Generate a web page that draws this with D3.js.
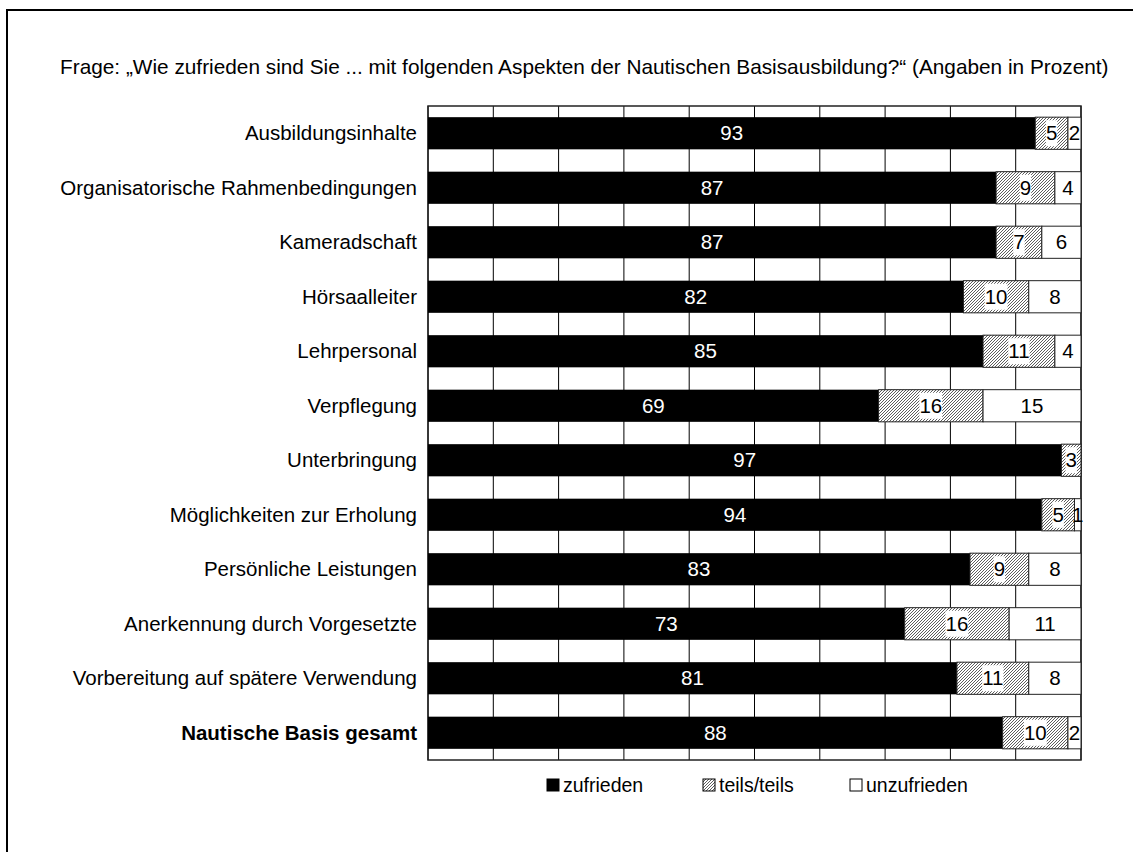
<!DOCTYPE html>
<html>
<head>
<meta charset="utf-8">
<script src="https://cdn.jsdelivr.net/npm/d3@7"></script>
<style>
  body { margin: 0; background: #fff; }
  text { font-family: "Liberation Sans", Arial, sans-serif; }
</style>
</head>
<body>
<script>
// categories, top to bottom
const categories = [
    "Ausbildungsinhalte",
    "Organisatorische Rahmenbedingungen",
    "Kameradschaft",
    "Hörsaalleiter",
    "Lehrpersonal",
    "Verpflegung",
    "Unterbringung",
    "Möglichkeiten zur Erholung",
    "Persönliche Leistungen",
    "Anerkennung durch Vorgesetzte",
    "Vorbereitung auf spätere Verwendung",
    "Nautische Basis gesamt"
];
const zufrieden   = [93, 87, 87, 82, 85, 69, 97, 94, 83, 73, 81, 88];
const teilsTeils  = [5, 9, 7, 10, 11, 16, 3, 5, 9, 16, 11, 10];
const unzufrieden = [2, 4, 6, 8, 4, 15, 0, 1, 8, 11, 8, 2];
const seriesNames = ["zufrieden", "teils/teils", "unzufrieden"];
const xTicks = [0, 10, 20, 30, 40, 50, 60, 70, 80, 90, 100];
const title = "Frage: \u201EWie zufrieden sind Sie ... mit folgenden Aspekten der Nautischen Basisausbildung?\u201C (Angaben in Prozent)";

const width = 1133;
const height = 852;
const plotLeft = 428, plotRight = 1081, plotTop = 106, plotBottom = 760;
const labelSize = 20.5;
const titleSize = 20.8;
const legendSize = 19.5;

const svg = d3.select("body")
    .append("svg")
    .attr("width", width)
    .attr("height", height);

// hatch pattern for teils/teils
svg.append("defs")
    .append("pattern")
    .attr("id", "hatch")
    .attr("patternUnits", "userSpaceOnUse")
    .attr("width", 3)
    .attr("height", 3)
    .call(p => {
        p.append("rect").attr("width", 3).attr("height", 3).attr("fill", "#fff");
        p.append("path")
            .attr("d", "M-1,1 L1,-1 M0,3 L3,0 M2,4 L4,2")
            .attr("stroke", "#333")
            .attr("stroke-width", 0.8);
    });

// outer frame (cut off at right and bottom)
svg.append("rect")
    .attr("x", 7)
    .attr("y", 10)
    .attr("width", 1200)
    .attr("height", 900)
    .attr("fill", "none")
    .attr("stroke", "#000")
    .attr("stroke-width", 2);

const xScale = d3.scaleLinear()
    .domain([0, 100])
    .range([plotLeft, plotRight]);

const yScale = d3.scaleBand()
    .domain(categories)
    .range([plotTop, plotBottom])
    .paddingInner(0.41)
    .paddingOuter(0.205);

// vertical gridlines
svg.append("g")
    .selectAll("line")
    .data(xTicks)
    .enter()
    .append("line")
    .attr("x1", d => xScale(d))
    .attr("x2", d => xScale(d))
    .attr("y1", plotTop)
    .attr("y2", plotBottom)
    .attr("stroke", "#000")
    .attr("stroke-width", 1);

// plot border
svg.append("rect")
    .attr("x", plotLeft)
    .attr("y", plotTop)
    .attr("width", plotRight - plotLeft)
    .attr("height", plotBottom - plotTop)
    .attr("fill", "none")
    .attr("stroke", "#222")
    .attr("stroke-width", 1.5);

const rows = categories.map((c, i) => ({ cat: c, values: [zufrieden[i], teilsTeils[i], unzufrieden[i]] }));
const stacked = d3.stack().keys([0, 1, 2]).value((d, k) => d.values[k])(rows);
const fills = ["#000", "url(#hatch)", "#fff"];

const layers = svg.append("g")
    .selectAll("g")
    .data(stacked)
    .enter()
    .append("g");

layers.selectAll("rect")
    .data((s, k) => s.map(d => ({ d, k })).filter(o => o.d[1] - o.d[0] > 0))
    .enter()
    .append("rect")
    .attr("x", o => xScale(o.d[0]))
    .attr("y", o => yScale(o.d.data.cat))
    .attr("width", o => xScale(o.d[1]) - xScale(o.d[0]))
    .attr("height", yScale.bandwidth())
    .attr("fill", o => fills[o.k])
    .attr("stroke", o => o.k === 0 ? "none" : "#222")
    .attr("stroke-width", 1);

// value labels
layers.each(function (s, k) {
    const g = d3.select(this);
    s.forEach(d => {
        const v = d[1] - d[0];
        if (v <= 0) return;
        const cx = (xScale(d[0]) + xScale(d[1])) / 2;
        const cy = yScale(d.data.cat) + yScale.bandwidth() / 2;
        const t = g.append("text")
            .attr("x", cx)
            .attr("y", cy)
            .attr("dy", "0.35em")
            .attr("text-anchor", "middle")
            .attr("font-size", labelSize)
            .attr("fill", k === 0 ? "#fff" : "#000")
            .text(v);
        if (k === 1) {
            const bb = t.node().getBBox();
            g.insert("rect", () => t.node())
                .attr("x", bb.x)
                .attr("y", cy - 13)
                .attr("width", bb.width)
                .attr("height", 26)
                .attr("fill", "#fff");
        }
    });
});

// category labels
svg.append("g")
    .selectAll("text")
    .data(categories)
    .enter()
    .append("text")
    .attr("x", plotLeft - 11)
    .attr("y", d => yScale(d) + yScale.bandwidth() / 2)
    .attr("dy", "0.35em")
    .attr("text-anchor", "end")
    .attr("font-size", labelSize)
    .attr("font-weight", (d, i) => i === categories.length - 1 ? "bold" : "normal")
    .text(d => d);

// title
svg.append("text")
    .attr("x", 60)
    .attr("y", 67)
    .attr("dy", "0.35em")
    .attr("font-size", titleSize)
    .text(title);

// legend
const legendX = [547, 703, 850];
const leg = svg.append("g")
    .selectAll("g")
    .data(seriesNames)
    .enter()
    .append("g")
    .attr("transform", (d, i) => "translate(" + legendX[i] + ",779)");

leg.append("rect")
    .attr("width", 12)
    .attr("height", 12)
    .attr("fill", (d, i) => fills[i])
    .attr("stroke", "#000")
    .attr("stroke-width", 1);

leg.append("text")
    .attr("x", 16)
    .attr("y", 6)
    .attr("dy", "0.35em")
    .attr("font-size", legendSize)
    .text(d => d);
</script>
</body>
</html>
